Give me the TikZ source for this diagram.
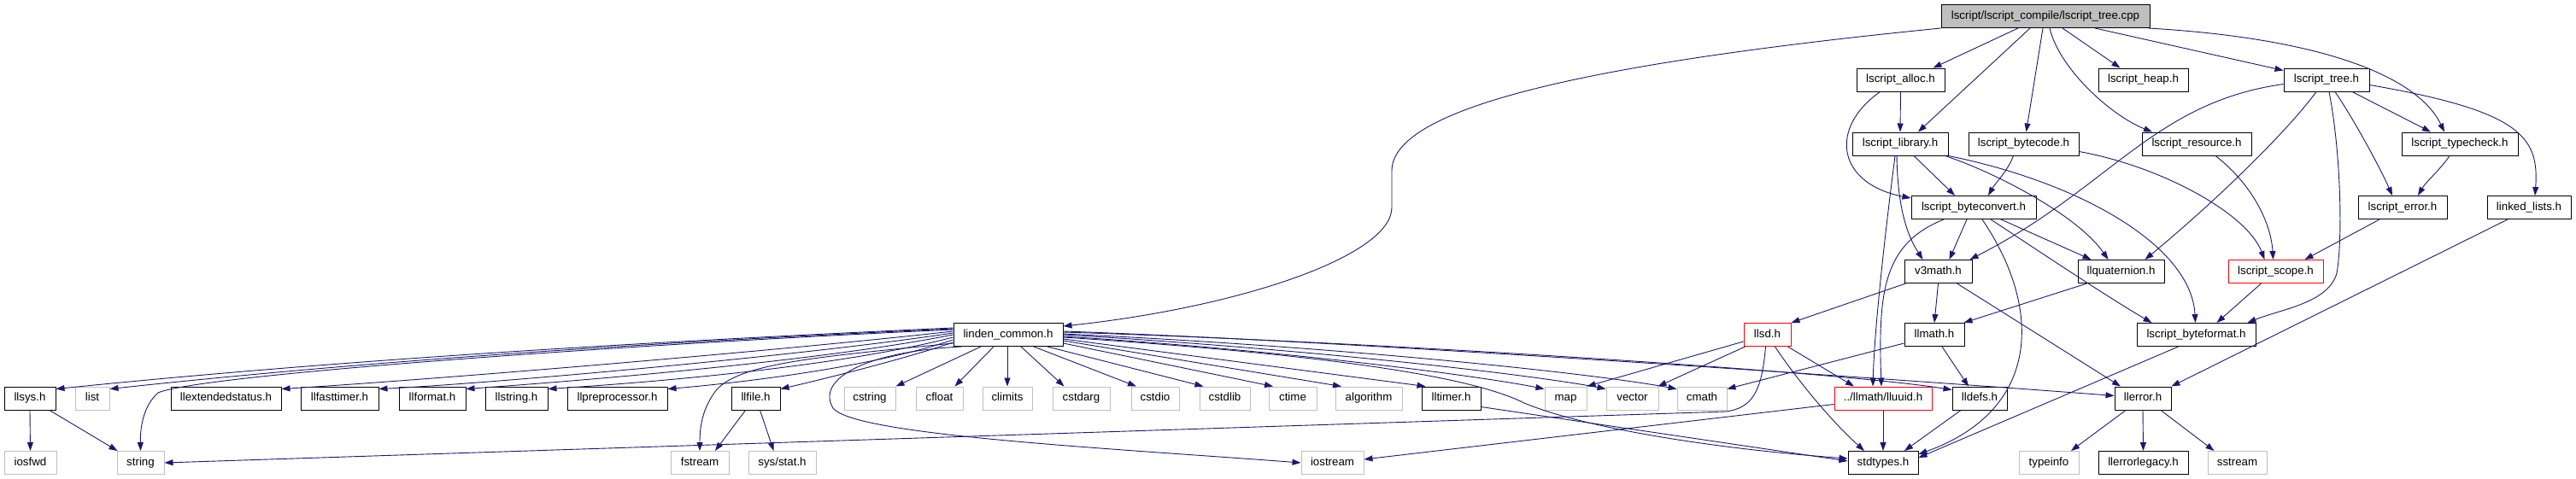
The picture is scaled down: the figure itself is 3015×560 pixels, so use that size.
\documentclass[tikz,border=0pt]{standalone}
\usepackage{fontspec}
\setmainfont{Liberation Sans}
\usetikzlibrary{arrows.meta}
\definecolor{edgec}{RGB}{25,25,112}
\definecolor{grayc}{RGB}{191,191,191}
\begin{document}
\begin{tikzpicture}[x=1pt,y=-1pt,
 box/.style={draw=black, line width=1pt, minimum height=27pt, inner sep=0pt,
   text height=9.6pt, text depth=2.8pt, font=\fontsize{13.3}{16}\selectfont},
 sysbox/.style={box, draw=grayc},
 redbox/.style={box, draw=red},
 rootbox/.style={box, fill=grayc},
 edge/.style={draw=edgec, line width=0.9pt, -{Triangle[length=10pt,width=7pt]}},
]
\useasboundingbox (0,0) rectangle (3015,560);
% nodes
\node[rootbox, minimum width=244pt] (root) at (2394,19) {lscript/lscript\_compile/lscript\_tree.cpp};
\node[box, minimum width=103pt] (alloc) at (2224.5,93.5) {lscript\_alloc.h};
\node[box, minimum width=105pt] (heap) at (2508.5,93.5) {lscript\_heap.h};
\node[box, minimum width=100pt] (tree) at (2723,93.5) {lscript\_tree.h};
\node[box, minimum width=112pt] (library) at (2224,168.5) {lscript\_library.h};
\node[box, minimum width=129pt] (bytecode) at (2368.5,168.5) {lscript\_bytecode.h};
\node[box, minimum width=128pt] (resource) at (2571,168.5) {lscript\_resource.h};
\node[box, minimum width=136pt] (typecheck) at (2879,168.5) {lscript\_typecheck.h};
\node[box, minimum width=146pt] (byteconvert) at (2310,243) {lscript\_byteconvert.h};
\node[box, minimum width=104pt] (error) at (2812,243) {lscript\_error.h};
\node[box, minimum width=98pt] (linked) at (2960,243) {linked\_lists.h};
\node[box, minimum width=79pt] (v3math) at (2268.5,318) {v3math.h};
\node[box, minimum width=101pt] (quat) at (2482.5,318) {llquaternion.h};
\node[redbox, minimum width=111pt] (scope) at (2663.5,318) {lscript\_scope.h};
\node[box, minimum width=128pt] (lc) at (1180,392) {linden\_common.h};
\node[redbox, minimum width=55pt] (llsd) at (2068.5,392) {llsd.h};
\node[box, minimum width=70pt] (llmath) at (2264,392) {llmath.h};
\node[box, minimum width=139pt] (byteformat) at (2570.5,392) {lscript\_byteformat.h};
% row 4
\node[box, minimum width=60pt] (llsys) at (35,466.5) {llsys.h};
\node[sysbox, minimum width=40pt] (list) at (108,466.5) {list};
\node[box, minimum width=129pt] (extstatus) at (264.5,466.5) {llextendedstatus.h};
\node[box, minimum width=91pt] (fasttimer) at (397.5,466.5) {llfasttimer.h};
\node[box, minimum width=78pt] (format) at (506,466.5) {llformat.h};
\node[box, minimum width=73pt] (llstring) at (604.5,466.5) {llstring.h};
\node[box, minimum width=117pt] (preproc) at (722.5,466.5) {llpreprocessor.h};
\node[box, minimum width=57pt] (llfile) at (884.5,466.5) {llfile.h};
\node[sysbox, minimum width=60pt] (cstring) at (1018,466.5) {cstring};
\node[sysbox, minimum width=55pt] (cfloat) at (1099.5,466.5) {cfloat};
\node[sysbox, minimum width=58pt] (climits) at (1179,466.5) {climits};
\node[sysbox, minimum width=67pt] (cstdarg) at (1265.5,466.5) {cstdarg};
\node[sysbox, minimum width=56pt] (cstdio) at (1352,466.5) {cstdio};
\node[sysbox, minimum width=59pt] (cstdlib) at (1433.5,466.5) {cstdlib};
\node[sysbox, minimum width=56pt] (ctime) at (1513,466.5) {ctime};
\node[sysbox, minimum width=78pt] (algorithm) at (1602,466.5) {algorithm};
\node[box, minimum width=69pt] (lltimer) at (1698.5,466.5) {lltimer.h};
\node[sysbox, minimum width=49pt] (map) at (1832.5,466.5) {map};
\node[sysbox, minimum width=61pt] (vector) at (1910.5,466.5) {vector};
\node[sysbox, minimum width=58pt] (cmath) at (1992,466.5) {cmath};
\node[redbox, minimum width=114pt] (lluuid) at (2204,466.5) {../llmath/lluuid.h};
\node[box, minimum width=64pt] (lldefs) at (2317,466.5) {lldefs.h};
\node[box, minimum width=66pt] (llerror) at (2508,466.5) {llerror.h};
% row 5
\node[sysbox, minimum width=61pt] (iosfwd) at (35.5,542) {iosfwd};
\node[sysbox, minimum width=55pt] (string) at (164.5,542) {string};
\node[sysbox, minimum width=68pt] (fstream) at (819,542) {fstream};
\node[sysbox, minimum width=79pt] (sysstat) at (915.5,542) {sys/stat.h};
\node[sysbox, minimum width=73pt] (iostream) at (1559.5,542) {iostream};
\node[box, minimum width=82pt] (stdtypes) at (2204,542) {stdtypes.h};
\node[sysbox, minimum width=70pt] (typeinfo) at (2398,542) {typeinfo};
\node[box, minimum width=105pt] (legacy) at (2508.5,542) {llerrorlegacy.h};
\node[sysbox, minimum width=69pt] (sstream) at (2618.5,542) {sstream};

% root edges
\draw[edge] (root.south west) .. controls (1900,70) and (1629,120) .. (1629,200) -- (1629,243) .. controls (1629,300) and (1450,360) .. ([yshift=-4]lc.north east);
\draw[edge] ([xshift=-32]root.south) -- ([xshift=38]alloc.north);
\draw[edge] ([xshift=-18]root.south) -- ([xshift=21]library.north);
\draw[edge] ([xshift=-3]root.south) -- ([xshift=3]bytecode.north);
\draw[edge] ([xshift=20]root.south) -- ([xshift=-27]heap.north);
\draw[edge] ([xshift=5]root.south) .. controls (2410,80) and (2470,135) .. ([xshift=-52]resource.north);
\draw[edge] ([xshift=58]root.south) -- ([yshift=-3]tree.north west);
\draw[edge] ([xshift=-2]root.south east) .. controls (2720,45) and (2830,90) .. ([xshift=-18]typecheck.north);
% alloc
\draw[edge] (alloc.south) -- (library.north);
\draw[edge] ([xshift=-24]alloc.south) .. controls (2140,150) and (2150,215) .. ([yshift=-3]byteconvert.north west);
% library
\draw[edge] ([xshift=16]library.south) -- ([xshift=-22]byteconvert.north);
\draw[edge] ([xshift=-4]library.south) .. controls (2221,250) and (2235,280) .. ([xshift=-18]v3math.north);
\draw[edge] ([xshift=-6]library.south) .. controls (2208,260) and (2194,380) .. ([xshift=-12]lluuid.north);
\draw[edge] ([xshift=-4]library.south east) .. controls (2330,200) and (2430,250) .. ([xshift=-15]quat.north);
\draw[edge] (library.south east) .. controls (2440,215) and (2565,290) .. ([xshift=-1]byteformat.north);
% byteconvert
\draw[edge] ([xshift=-8]byteconvert.south) -- ([xshift=13]v3math.north);
\draw[edge] ([xshift=32]byteconvert.south) -- ([xshift=-35]quat.north);
\draw[edge] ([xshift=-35]byteconvert.south) .. controls (2205,285) and (2198,340) .. ([xshift=-2]lluuid.north);
\draw[edge] ([xshift=10]byteconvert.south) .. controls (2390,360) and (2390,480) .. ([yshift=-4]stdtypes.north east);
\draw[edge] ([xshift=20]byteconvert.south) .. controls (2380,290) and (2470,350) .. ([xshift=-52]byteformat.north);
% bytecode
\draw[edge] ([xshift=-12]bytecode.south) .. controls (2350,200) and (2335,215) .. ([xshift=17]byteconvert.north);
\draw[edge] ([yshift=-9]bytecode.east) .. controls (2530,195) and (2630,250) .. ([xshift=-13]scope.north);
% resource, error, typecheck
\draw[edge] ([xshift=22]resource.south) .. controls (2635,215) and (2658,260) .. ([xshift=-3]scope.north);
\draw[edge] ([xshift=-27]error.south) -- ([xshift=34]scope.north);
\draw[edge] ([xshift=-12]typecheck.south) .. controls (2855,200) and (2840,212) .. ([xshift=18]error.north);
% tree
\draw[edge] ([xshift=10]tree.south) .. controls (2755,140) and (2785,195) .. ([xshift=-12]error.north);
\draw[edge] ([xshift=30]tree.south) -- ([xshift=-34]typecheck.north);
\draw[edge] ([yshift=-6]tree.east) .. controls (2950,130) and (2972,160) .. ([xshift=7]linked.north);
\draw[edge] ([yshift=-5]tree.west) .. controls (2520,120) and (2470,220) .. ([xshift=-3]v3math.north east);
\draw[edge] ([xshift=-12]tree.south) .. controls (2680,150) and (2600,230) .. ([xshift=28]quat.north);
\draw[edge] ([xshift=3]tree.south) .. controls (2740,180) and (2742,280) .. (2735,320) .. controls (2725,355) and (2670,362) .. ([xshift=60]byteformat.north);
% scope
\draw[edge] ([xshift=-17]scope.south) -- ([xshift=24]byteformat.north);
% v3math, quat, llmath
\draw[edge] (v3math.south) -- (llmath.north);
\draw[edge] ([xshift=2]v3math.south west) -- (llsd.north east);
\draw[edge] ([xshift=22]v3math.south) -- ([xshift=-26]llerror.north);
\draw[edge] ([xshift=-40]quat.south) -- ([xshift=-1]llmath.north east);
\draw[edge] ([yshift=-10]llmath.west) -- ([yshift=-3]cmath.north east);
\draw[edge] ([xshift=9]llmath.south) -- ([xshift=-13]lldefs.north);
% llsd
\draw[edge] ([yshift=-8]llsd.west) -- (map.north east);
\draw[edge] ([xshift=2]llsd.south west) -- ([xshift=-1]vector.north east);
\draw[edge] ([xshift=-2]llsd.south) .. controls (2062,460) and (2050,478) .. (2020,482) -- (string.east);
\draw[edge] ([xshift=9]llsd.south) .. controls (2100,440) and (2140,490) .. ([xshift=-22]stdtypes.north);
\draw[edge] ([xshift=24]llsd.south) -- ([xshift=-34]lluuid.north);
% lower
\draw[edge] (lluuid.south) -- (stdtypes.north);
\draw[edge] ([yshift=-7]lluuid.west) -- ([yshift=4]iostream.east);
\draw[edge] ([xshift=-22]lldefs.south) -- ([xshift=25]stdtypes.north);
\draw[edge] ([yshift=-10]lltimer.east) -- ([yshift=2]stdtypes.west);
\draw[edge] ([xshift=-21]byteformat.south) -- ([yshift=-8]stdtypes.north east);
\draw[edge] ([xshift=-25]linked.south) -- (llerror.north east);
\draw[edge] ([xshift=-20]llerror.south) -- ([xshift=26]typeinfo.north);
\draw[edge] (llerror.south) -- (legacy.north);
\draw[edge] ([xshift=21]llerror.south) -- ([xshift=-27]sstream.north);
\draw[edge] (llsys.south) -- (iosfwd.north);
\draw[edge] ([xshift=23]llsys.south) -- ([xshift=-27]string.north);
\draw[edge] ([xshift=-12]llfile.south) -- ([xshift=18]fstream.north);
\draw[edge] ([xshift=5]llfile.south) -- ([xshift=-10]sysstat.north);
% linden_common left fan
\draw[edge] ([yshift=8]lc.west) .. controls (766,400) and (415,420) .. ([yshift=-3]llsys.north east);
\draw[edge] ([yshift=7]lc.west) .. controls (787,400) and (457,420) .. ([yshift=-3]list.north east);
\draw[edge] ([yshift=6]lc.west) .. controls (700,405) and (230,440) .. (185,460) .. controls (168,475) and (164,500) .. (string.north);
\draw[edge] ([yshift=4]lc.west) .. controls (900,412) and (500,445) .. ([yshift=-3]extstatus.north east);
\draw[edge] ([yshift=2]lc.west) .. controls (930,418) and (560,450) .. ([yshift=-3]fasttimer.north east);
\draw[edge] (lc.west) .. controls (950,425) and (650,448) .. ([yshift=-3]format.north east);
\draw[edge] ([yshift=-3]lc.west) .. controls (980,430) and (760,448) .. ([yshift=-3]llstring.north east);
\draw[edge] ([yshift=-6]lc.west) .. controls (1020,430) and (870,448) .. ([yshift=-3]preproc.north east);
\draw[edge] ([yshift=-9]lc.west) .. controls (1060,420) and (960,445) .. ([yshift=-3]llfile.north east);
\draw[edge] ([yshift=-10]lc.west) .. controls (960,418) and (860,425) .. (836,460) .. controls (822,480) and (819,500) .. (fstream.north);
\draw[edge] ([xshift=-55]lc.south) .. controls (1010,412) and (955,445) .. (975,478) .. controls (1000,510) and (1300,525) .. (iostream.west);
% linden_common bottom fan
\draw[edge] ([xshift=-32]lc.south) -- (cstring.north east);
\draw[edge] ([xshift=-17]lc.south) -- ([xshift=18]cfloat.north);
\draw[edge] ([xshift=-1]lc.south) -- (climits.north);
\draw[edge] ([xshift=15]lc.south) -- ([xshift=-20]cstdarg.north);
\draw[edge] ([xshift=30]lc.south) -- ([xshift=-22]cstdio.north);
\draw[edge] ([xshift=46]lc.south) -- ([xshift=-25]cstdlib.north);
\draw[edge] ([yshift=-10]lc.east) -- ([xshift=-23]ctime.north);
\draw[edge] ([yshift=-7]lc.east) -- ([xshift=-32]algorithm.north);
\draw[edge] ([yshift=-5]lc.east) -- ([xshift=-30]lltimer.north);
% linden_common right fan
\draw[edge] ([yshift=-2]lc.east) .. controls (1500,410) and (1730,440) .. ([yshift=-3]map.north west);
\draw[edge] (lc.east) .. controls (1550,410) and (1800,440) .. ([yshift=-3]vector.north west);
\draw[edge] ([yshift=1]lc.east) .. controls (1550,405) and (1850,435) .. ([yshift=-3]cmath.north west);
\draw[edge] ([yshift=3]lc.east) .. controls (1600,400) and (2150,435) .. ([yshift=-4]lldefs.north west);
\draw[edge] ([yshift=4]lc.east) .. controls (1600,400) and (2300,450) .. ([yshift=3]llerror.west);
\draw[edge] ([yshift=-3]lc.east) .. controls (1550,415) and (1720,440) .. (1784,472) .. controls (1850,500) and (2000,525) .. ([yshift=5]stdtypes.west);
\end{tikzpicture}
\end{document}
